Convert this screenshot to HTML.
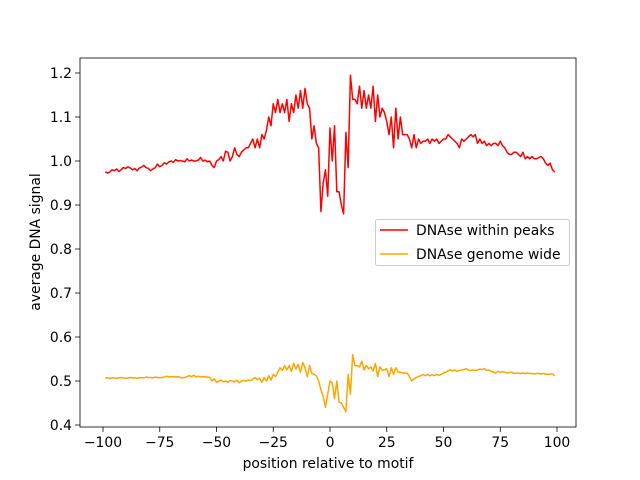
<!DOCTYPE html>
<html><head><meta charset="utf-8"><style>
body{margin:0;background:#fff}
svg{display:block;font-family:"DejaVu Sans","Liberation Sans",sans-serif}
</style></head><body>
<svg id="chart" width="640" height="480" xmlns="http://www.w3.org/2000/svg"></svg>
<script>
const redValues=[0.975,0.973,0.975,0.98,0.978,0.982,0.976,0.98,0.985,0.983,
0.987,0.984,0.98,0.983,0.978,0.984,0.986,0.99,0.985,0.983,
0.978,0.982,0.985,0.993,0.987,0.99,0.996,0.993,0.998,1.0,
0.997,1.003,1.0,1.001,1.0,0.998,1.005,1.0,1.002,1.0,
1.0,1.002,1.008,1.0,1.002,0.998,1.0,0.99,0.985,1.0,
1.003,1.01,1.0,1.022,1.02,1.0,1.01,1.03,1.015,1.01,
1.02,1.025,1.03,1.03,1.04,1.05,1.03,1.05,1.03,1.06,
1.05,1.07,1.1,1.08,1.13,1.11,1.14,1.11,1.13,1.11,
1.14,1.09,1.13,1.11,1.15,1.12,1.16,1.12,1.165,1.13,
1.12,1.05,1.08,1.04,1.03,0.885,0.95,0.98,0.92,1.075,
1.0,1.08,0.93,0.93,0.9,0.88,1.065,0.985,1.195,1.14,
1.14,1.13,1.17,1.12,1.16,1.12,1.15,1.12,1.17,1.09,
1.15,1.1,1.12,1.11,1.09,1.06,1.1,1.03,1.12,1.05,
1.1,1.06,1.06,1.06,1.05,1.03,1.06,1.03,1.05,1.04,
1.045,1.045,1.05,1.04,1.05,1.045,1.05,1.04,1.045,1.05,
1.05,1.06,1.055,1.05,1.045,1.04,1.03,1.05,1.045,1.05,
1.055,1.06,1.055,1.06,1.04,1.05,1.04,1.045,1.035,1.04,
1.035,1.04,1.04,1.035,1.045,1.035,1.03,1.02,1.015,1.015,
1.02,1.02,1.015,1.01,1.02,1.005,1.01,1.005,1.01,1.005,
1.005,1.008,1.01,1.005,0.995,0.99,0.995,0.98,0.975];
const orangeValues=[0.507,0.507,0.506,0.507,0.507,0.506,0.507,0.508,0.507,0.506,
0.507,0.508,0.507,0.507,0.506,0.507,0.508,0.507,0.509,0.508,
0.508,0.507,0.509,0.508,0.507,0.508,0.509,0.511,0.509,0.51,
0.51,0.509,0.51,0.508,0.507,0.508,0.51,0.512,0.51,0.513,
0.509,0.511,0.509,0.51,0.509,0.509,0.508,0.5,0.505,0.497,
0.5,0.502,0.498,0.5,0.497,0.501,0.5,0.498,0.502,0.496,
0.5,0.501,0.5,0.502,0.501,0.504,0.508,0.503,0.506,0.497,
0.508,0.5,0.512,0.502,0.515,0.51,0.52,0.53,0.524,0.535,
0.525,0.535,0.522,0.54,0.527,0.538,0.52,0.542,0.53,0.51,
0.535,0.517,0.515,0.512,0.5,0.48,0.465,0.44,0.47,0.5,
0.495,0.46,0.5,0.452,0.45,0.44,0.43,0.515,0.47,0.56,
0.535,0.535,0.532,0.545,0.525,0.535,0.528,0.532,0.523,0.54,
0.51,0.532,0.525,0.525,0.528,0.51,0.53,0.515,0.53,0.52,
0.52,0.518,0.518,0.518,0.51,0.5,0.505,0.508,0.51,0.512,
0.515,0.512,0.515,0.512,0.514,0.512,0.515,0.513,0.515,0.518,
0.52,0.523,0.525,0.523,0.525,0.522,0.524,0.525,0.526,0.528,
0.525,0.524,0.525,0.524,0.525,0.527,0.526,0.528,0.524,0.525,
0.522,0.52,0.518,0.522,0.52,0.521,0.52,0.518,0.519,0.52,
0.517,0.518,0.518,0.517,0.518,0.517,0.518,0.517,0.517,0.516,
0.517,0.517,0.516,0.517,0.516,0.515,0.516,0.516,0.512];
const startPosition=-99;
const xTicks=[-100,-75,-50,-25,0,25,50,75,100];
const yTicks=[0.4,0.5,0.6,0.7,0.8,0.9,1.0,1.1,1.2];
const yTickLabels=["0.4","0.5","0.6","0.7","0.8","0.9","1.0","1.1","1.2"];
const seriesNames=["DNAse within peaks","DNAse genome wide"];

const svg=document.getElementById('chart');
const NS='http://www.w3.org/2000/svg';
const L=80,R=576,T=58,B=427;
const FS=13.9;
function xs(v){return 330+v*2.27;}
function ys(v){return 73+(1.2-v)*440;}
function mk(tag,attrs,text){const e=document.createElementNS(NS,tag);for(const k in attrs)e.setAttribute(k,attrs[k]);if(text!==undefined)e.textContent=text;svg.appendChild(e);return e;}

function series(vals,color,name){
  const pts=vals.map((v,i)=>xs(startPosition+i).toFixed(2)+','+ys(v).toFixed(2)).join(' ');
  const p=mk('polyline',{points:pts,fill:'none',stroke:color,'stroke-width':1.5,'stroke-linejoin':'round'});
  
  
}
series(redValues,'#ff0000','series-within-peaks');
series(orangeValues,'#ffa500','series-genome-wide');

const frame=mk('rect',{x:L,y:T,width:R-L,height:B-T,fill:'none',stroke:'#000','stroke-width':0.8});



xTicks.forEach(t=>{
  const x=xs(t);
  const l=mk('line',{x1:x,x2:x,y1:B,y2:B+4.9,stroke:'#000','stroke-width':0.8});
  
  
  const tx=mk('text',{x:x,y:B+20,'font-size':FS,'text-anchor':'middle'},String(t).replace('-','\u2212'));
  
  
});
yTicks.forEach((t,i)=>{
  const y=ys(t);
  const l=mk('line',{x1:L-4.9,x2:L,y1:y,y2:y,stroke:'#000','stroke-width':0.8});
  
  
  const tx=mk('text',{x:L-8,y:y+5,'font-size':FS,'text-anchor':'end'},yTickLabels[i]);
  
  
});
const xl=mk('text',{x:328,y:468,'font-size':FS,'text-anchor':'middle'},'position relative to motif');


const yl=mk('text',{x:0,y:0,'font-size':FS,'text-anchor':'middle',transform:'translate(40,242) rotate(-90)'},'average DNA signal');



const lg=mk('rect',{x:375.5,y:219.5,width:194,height:46,rx:2,fill:'#fff','fill-opacity':0.8,stroke:'#ccc','stroke-width':1});


['#ff0000','#ffa500'].forEach((c,i)=>{
  const y=230+i*24;
  const l=mk('line',{x1:380,x2:408,y1:y,y2:y,stroke:c,'stroke-width':1.5});
  
  
  const t=mk('text',{x:416,y:y+5,'font-size':FS},seriesNames[i]);
  
  
});
</script>
</body></html>
